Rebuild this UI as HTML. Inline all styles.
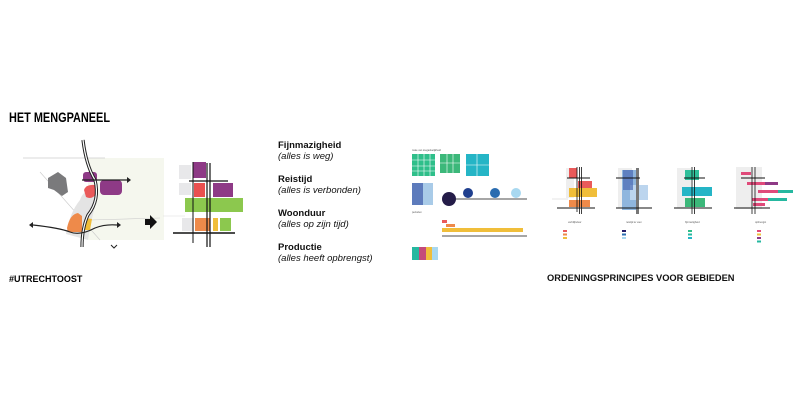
<!DOCTYPE html>
<html><head><meta charset="utf-8"><style>
html,body{margin:0;padding:0;background:#fff;width:800px;height:400px;overflow:hidden}
svg{display:block}
text{font-family:"Liberation Sans",sans-serif}
</style></head><body>
<svg width="800" height="400" viewBox="0 0 800 400" xmlns="http://www.w3.org/2000/svg">
<rect width="800" height="400" fill="#fff"/>
<text x="9" y="122" font-size="14" font-weight="bold" textLength="101" lengthAdjust="spacingAndGlyphs">HET MENGPANEEL</text>
<text x="9" y="282" font-size="9" font-weight="bold">#UTRECHTOOST</text>

<!-- map -->
<rect x="88" y="158" width="76" height="82" fill="#f5f7ee"/>
<line x1="23" y1="158" x2="105" y2="158" stroke="#ccc" stroke-width="0.8"/>
<line x1="40" y1="172" x2="100" y2="240" stroke="#ccc" stroke-width="0.6"/>
<line x1="90" y1="220" x2="160" y2="218" stroke="#ccc" stroke-width="0.6"/>
<path d="M48 178 L58 172 L66 178 L68 192 L62 196 L54 190 L48 188 Z" fill="#7a7a7c"/>
<path d="M80 200 Q83 190 95 188 L97 200 Q92 215 88 240 L66 234 Q70 212 80 200Z" fill="#e4e4e4"/>
<rect x="83" y="172" width="14" height="10" rx="3" fill="#8e3a86"/>
<rect x="100" y="180" width="22" height="15" rx="4" fill="#8e3a86"/>
<path d="M84 190 Q86 184 95 185 L96 194 Q92 200 86 197Z" fill="#ea5a5a"/>
<path d="M67 228 Q70 214 78 213 L82 216 L82 232 L68 232Z" fill="#ee8a4a"/>
<path d="M85 218 L92 219 L90 230 L85 230Z" fill="#f0be3a"/>
<path d="M83 140 Q86 165 95 180 Q100 200 88 215 Q82 228 82 247" fill="none" stroke="#222" stroke-width="3.2"/>
<path d="M83 140 Q86 165 95 180 Q100 200 88 215 Q82 228 82 247" fill="none" stroke="#fff" stroke-width="1.2"/>
<line x1="82" y1="180" x2="127" y2="180" stroke="#222" stroke-width="1.2"/>
<path d="M127 177 L131 180 L127 183Z" fill="#222"/>
<path d="M33 225 Q60 228 70 232 Q80 236 95 228 Q105 224 117 225" fill="none" stroke="#222" stroke-width="1.2"/>
<path d="M33 222 L29 225 L33 228Z" fill="#222"/>
<path d="M117 222 L121 225 L117 228Z" fill="#222"/>
<path d="M111 245 L114 248 L117 245" fill="none" stroke="#222" stroke-width="1"/>
<path d="M145 219 L150 219 L150 215 L157 222 L150 229 L150 225 L145 225Z" fill="#111"/>

<!-- diagram 2 -->
<rect x="179" y="165" width="12" height="14" fill="#e8e8ea"/>
<rect x="179" y="183" width="12" height="12" fill="#e8e8ea"/>
<rect x="182" y="218" width="12" height="13" fill="#e8e8ea"/>
<line x1="163" y1="216" x2="185" y2="216" stroke="#ddd" stroke-width="0.6"/>
<rect x="193" y="162" width="13" height="16" fill="#8e3a86"/>
<rect x="194" y="183" width="11" height="14" fill="#ea5050"/>
<rect x="213" y="183" width="20" height="14" fill="#8e3a86"/>
<rect x="185" y="198" width="58" height="14" fill="#8cc84e"/>
<rect x="195" y="218" width="15" height="13" fill="#ee8a4a"/>
<rect x="213" y="218" width="5" height="13" fill="#f0be3a"/>
<rect x="220" y="218" width="11" height="13" fill="#8cc84e"/>
<line x1="193" y1="162" x2="193" y2="243" stroke="#111" stroke-width="1"/>
<line x1="207" y1="163" x2="207" y2="247" stroke="#111" stroke-width="1.2"/>
<line x1="210" y1="163" x2="210" y2="247" stroke="#111" stroke-width="1.2"/>
<line x1="189" y1="181" x2="228" y2="181" stroke="#111" stroke-width="1.3"/>
<line x1="173" y1="233" x2="235" y2="233" stroke="#111" stroke-width="1.5"/>

<!-- text list -->
<g font-size="9.5" fill="#111">
<text x="278" y="148" font-weight="bold">Fijnmazigheid</text>
<text x="278" y="159" font-style="italic">(alles is weg)</text>
<text x="278" y="182" font-weight="bold">Reistijd</text>
<text x="278" y="193" font-style="italic">(alles is verbonden)</text>
<text x="278" y="216" font-weight="bold">Woonduur</text>
<text x="278" y="227" font-style="italic">(alles op zijn tijd)</text>
<text x="278" y="250" font-weight="bold">Productie</text>
<text x="278" y="261" font-style="italic">(alles heeft opbrengst)</text>
</g>

<!-- right left column -->
<text x="412" y="151" font-size="2.5" fill="#555">mate van toegankelijkheid</text>
<rect x="412" y="154" width="23" height="22" fill="#2fbf8a"/>
<g stroke="#fff" stroke-width="0.6"><line x1="412" y1="160" x2="435" y2="160"/><line x1="412" y1="166" x2="435" y2="166"/><line x1="412" y1="171" x2="435" y2="171"/><line x1="418" y1="154" x2="418" y2="176"/><line x1="424" y1="154" x2="424" y2="176"/><line x1="430" y1="154" x2="430" y2="176"/></g>
<rect x="440" y="154" width="20" height="19" fill="#3cb87a"/>
<g stroke="#fff" stroke-width="0.6"><line x1="440" y1="163" x2="460" y2="163"/><line x1="447" y1="154" x2="447" y2="173"/><line x1="453" y1="154" x2="453" y2="173"/></g>
<rect x="466" y="154" width="23" height="22" fill="#25b5c6"/>
<g stroke="#fff" stroke-width="0.6"><line x1="466" y1="165" x2="489" y2="165"/><line x1="477" y1="154" x2="477" y2="176"/></g>
<rect x="412" y="183" width="21" height="22" fill="#a9cbe8"/>
<rect x="412" y="183" width="11" height="22" fill="#4a66b0" opacity="0.8"/>
<line x1="449" y1="199" x2="527" y2="199" stroke="#111" stroke-width="0.8"/>
<circle cx="449" cy="199" r="7" fill="#241c48"/>
<circle cx="468" cy="193" r="5" fill="#1f3f8e"/>
<circle cx="495" cy="193" r="5" fill="#2a6cb0"/>
<circle cx="516" cy="193" r="5" fill="#a8d8f0"/>
<text x="412" y="213" font-size="2.5" fill="#555">perioden</text>
<rect x="442" y="220" width="5" height="3" fill="#ea5a5a"/>
<rect x="446" y="224" width="9" height="3" fill="#ee8a4a"/>
<rect x="442" y="228" width="81" height="4" fill="#f0be3a"/>
<line x1="442" y1="236" x2="527" y2="236" stroke="#111" stroke-width="0.8"/>
<rect x="412" y="247" width="7" height="13" fill="#26b8a0"/>
<rect x="419" y="247" width="7" height="13" fill="#c44a7a"/>
<rect x="426" y="247" width="6" height="13" fill="#f0be3a"/>
<rect x="432" y="247" width="6" height="13" fill="#a8d8f0"/>

<!-- four diagrams -->
<rect x="566" y="168" width="8" height="30" fill="#eee"/>
<rect x="569" y="168" width="8" height="10" fill="#ea5a5a"/>
<rect x="578" y="181" width="14" height="7" fill="#ea5a5a"/>
<rect x="569" y="188" width="28" height="9" fill="#f0be3a"/>
<rect x="569" y="200" width="21" height="7" fill="#ee8a4a"/>
<line x1="552" y1="199" x2="568" y2="199" stroke="#ccc" stroke-width="0.5"/>
<line x1="577" y1="167" x2="577" y2="212" stroke="#111" stroke-width="0.8"/>
<line x1="579.5" y1="167" x2="579.5" y2="214" stroke="#111" stroke-width="0.8"/>
<line x1="581.5" y1="167" x2="581.5" y2="214" stroke="#111" stroke-width="0.8"/>
<line x1="567" y1="178" x2="590" y2="178" stroke="#111" stroke-width="1"/>
<line x1="557" y1="208" x2="595" y2="208" stroke="#111" stroke-width="1"/>
<rect x="618" y="168" width="14" height="40" fill="#eee"/>
<rect x="622" y="170" width="16" height="40" fill="#8fb6de"/>
<rect x="630" y="185" width="18" height="15" fill="#bcd5ee"/>
<rect x="623" y="170" width="10" height="20" fill="#4a6ab4" opacity="0.7"/>
<rect x="636" y="168" width="3" height="46" fill="#777"/>
<line x1="616" y1="178" x2="640" y2="178" stroke="#111" stroke-width="1"/>
<line x1="616" y1="208" x2="652" y2="208" stroke="#111" stroke-width="1"/>
<rect x="677" y="168" width="14" height="40" fill="#eee"/>
<rect x="685" y="170" width="14" height="10" fill="#2fbf9a"/>
<rect x="682" y="187" width="30" height="9" fill="#25b5c6"/>
<rect x="685" y="198" width="20" height="9" fill="#3cb87a"/>
<line x1="692" y1="167" x2="692" y2="214" stroke="#111" stroke-width="0.8"/>
<line x1="694.5" y1="167" x2="694.5" y2="214" stroke="#111" stroke-width="0.8"/>
<line x1="684" y1="178" x2="705" y2="178" stroke="#111" stroke-width="1"/>
<line x1="674" y1="208" x2="712" y2="208" stroke="#111" stroke-width="1"/>
<rect x="736" y="167" width="26" height="42" fill="#eee"/>
<rect x="741" y="172" width="10" height="3" fill="#e04a7a"/>
<rect x="747" y="182" width="18" height="3" fill="#e04a7a"/><rect x="765" y="182" width="13" height="3" fill="#8e3a86"/>
<rect x="758" y="190" width="20" height="3" fill="#e04a7a"/><rect x="778" y="190" width="15" height="3" fill="#26b8a0"/>
<rect x="752" y="198" width="16" height="3" fill="#e04a7a"/><rect x="768" y="198" width="19" height="3" fill="#26b8a0"/>
<rect x="753" y="203" width="12" height="3" fill="#e04a7a"/>
<line x1="752" y1="167" x2="752" y2="214" stroke="#111" stroke-width="0.8"/>
<line x1="755" y1="167" x2="755" y2="214" stroke="#111" stroke-width="0.8"/>
<line x1="741" y1="178" x2="765" y2="178" stroke="#111" stroke-width="1"/>
<line x1="734" y1="208" x2="770" y2="208" stroke="#111" stroke-width="1"/>

<g font-size="2.5" fill="#555">
<text x="568" y="223">verblijfsduur</text><text x="626" y="223">reistijd te voet</text><text x="685" y="223">fijnmazigheid</text><text x="755" y="223">opbrengst</text>
</g>
<g>
<rect x="563" y="230" width="4" height="2" fill="#ea5a5a"/><rect x="563" y="233.5" width="4" height="2" fill="#ee8a4a"/><rect x="563" y="237" width="4" height="2" fill="#f0be3a"/>
<rect x="622" y="230" width="4" height="2" fill="#241c68"/><rect x="622" y="233.5" width="4" height="2" fill="#2a6cb0"/><rect x="622" y="237" width="4" height="2" fill="#a8d8f0"/>
<rect x="688" y="230" width="4" height="2" fill="#2fbf8a"/><rect x="688" y="233.5" width="4" height="2" fill="#26b8a0"/><rect x="688" y="237" width="4" height="2" fill="#25b5c6"/>
<rect x="757" y="230" width="4" height="2" fill="#e04a7a"/><rect x="757" y="233.5" width="4" height="2" fill="#f0be3a"/><rect x="757" y="237" width="4" height="2" fill="#8e3a86"/><rect x="757" y="240.5" width="4" height="2" fill="#26b8a0"/>
</g>
<text x="547" y="281" font-size="9.3" font-weight="bold" fill="#111">ORDENINGSPRINCIPES VOOR GEBIEDEN</text>
</svg>
</body></html>
